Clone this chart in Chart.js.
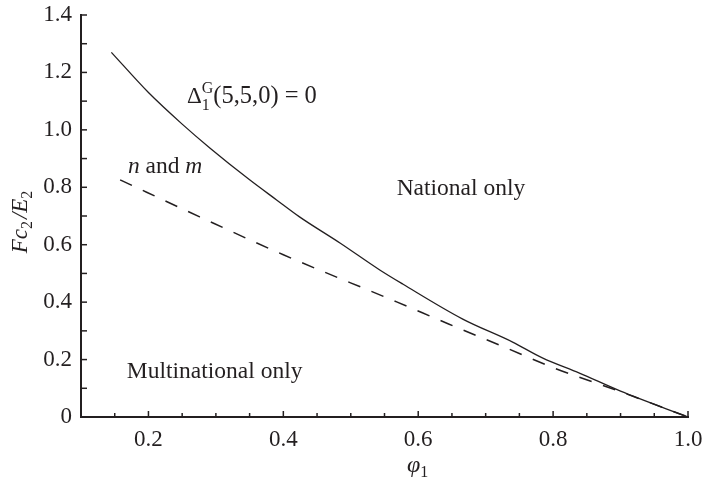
<!DOCTYPE html>
<html>
<head>
<meta charset="utf-8">
<script src="https://cdn.jsdelivr.net/npm/chart.js@4.4.1/dist/chart.umd.min.js"></script>
<style>
    html, body { margin: 0; padding: 0; background: #fff; }
    #wrap { width: 704px; height: 486px; }
</style>
</head>
<body>
<div id="wrap"><canvas id="chart"></canvas></div>
<script>
// Boundary Delta_1^G(5,5,0) = 0 (solid)
const solidPhi = [0.145, 0.2, 0.25, 0.291, 0.35, 0.39, 0.424, 0.484, 0.543, 0.577, 0.666, 0.74, 0.784, 0.839, 0.9, 1.0];
const solidY   = [1.27, 1.13, 1.02, 0.937, 0.826, 0.756, 0.697, 0.606, 0.512, 0.463, 0.341, 0.261, 0.206, 0.153, 0.09, 0];

// "n and m" boundary (dashed)
const dashPhi = [0.158, 0.276, 0.4, 0.568, 0.645, 0.724, 0.801, 0.9, 1.0];
const dashY   = [0.826, 0.697, 0.565, 0.401, 0.324, 0.247, 0.171, 0.088, 0];

const xMajorTicks = [0.2, 0.4, 0.6, 0.8, 1.0];
const yMajorTicks = [0, 0.2, 0.4, 0.6, 0.8, 1.0, 1.2, 1.4];

const ink = '#231f20';
const serif = '"Liberation Serif", "Times New Roman", serif';

function toPoints(xs, ys) {
    return xs.map((x, i) => ({x: x, y: ys[i]}));
}

function isMajor(v, list) {
    return list.some(m => Math.abs(m - v) < 1e-6);
}

// draw a run of text pieces (italic, sub/superscripts)
function drawRich(ctx, parts, x, y) {
    let cx = x;
    parts.forEach(p => {
        ctx.font = (p.italic ? 'italic ' : '') + p.size + 'px ' + serif;
        ctx.fillText(p.t, cx, y + (p.dy || 0));
        if (!p.noAdvance) cx += ctx.measureText(p.t).width + (p.gap || 0);
    });
    return cx - x;
}

function richWidth(ctx, parts) {
    let w = 0;
    parts.forEach(p => {
        ctx.font = (p.italic ? 'italic ' : '') + p.size + 'px ' + serif;
        if (!p.noAdvance) w += ctx.measureText(p.t).width + (p.gap || 0);
    });
    return w;
}

const extrasPlugin = {
    id: 'extras',
    afterDraw(chart) {
        const ctx = chart.ctx;
        const xs = chart.scales.x;
        const ys = chart.scales.y;
        const area = chart.chartArea;
        ctx.save();
        ctx.strokeStyle = ink;
        ctx.fillStyle = ink;
        ctx.lineWidth = 1.5;

        // inward ticks
        xs.ticks.forEach(t => {
            const px = xs.getPixelForValue(t.value);
            const len = isMajor(t.value, xMajorTicks) ? 6 : 4;
            ctx.beginPath();
            ctx.moveTo(px, area.bottom);
            ctx.lineTo(px, area.bottom - len);
            ctx.stroke();
        });
        ys.ticks.forEach(t => {
            const py = ys.getPixelForValue(t.value);
            ctx.beginPath();
            ctx.moveTo(area.left, py);
            ctx.lineTo(area.left + 6, py);
            ctx.stroke();
        });

        ctx.textBaseline = 'alphabetic';
        ctx.textAlign = 'left';

        // region labels
        drawRich(ctx, [{t: 'National only', size: 23.5}],
            xs.getPixelForValue(0.568), ys.getPixelForValue(0.774));
        drawRich(ctx, [{t: 'Multinational only', size: 23.5}],
            xs.getPixelForValue(0.168), ys.getPixelForValue(0.136));
        drawRich(ctx, [
            {t: 'n', size: 23.5, italic: true},
            {t: ' and ', size: 23.5},
            {t: 'm', size: 23.5, italic: true}
        ], xs.getPixelForValue(0.1696), ys.getPixelForValue(0.85));
        drawRich(ctx, [
            {t: '\u0394', size: 23},
            {t: '1', size: 16, dy: 7, noAdvance: true},
            {t: 'G', size: 16, dy: -10},
            {t: '(5,5,0) = 0', size: 24.5}
        ], xs.getPixelForValue(0.257), ys.getPixelForValue(1.094));

        // x axis title
        drawRich(ctx, [
            {t: '\u03c6', size: 24, italic: true},
            {t: '1', size: 16, dy: 5}
        ], 407, 472);

        // y axis title (rotated)
        const yParts = [
            {t: 'Fc', size: 23, italic: true},
            {t: '2', size: 16, dy: 5, gap: 2},
            {t: '/', size: 23, italic: true},
            {t: 'E', size: 23, italic: true},
            {t: '2', size: 16, dy: 5}
        ];
        ctx.translate(27, (area.top + area.bottom) / 2 + 6);
        ctx.rotate(-Math.PI / 2);
        drawRich(ctx, yParts, -richWidth(ctx, yParts) / 2, 0);
        ctx.restore();
    }
};

const ctx = document.getElementById('chart').getContext('2d');
new Chart(ctx, {
    type: 'scatter',
    data: {
        datasets: [{
            label: 'Delta',
            data: toPoints(solidPhi, solidY),
            showLine: true,
            borderColor: ink,
            borderWidth: 1.3,
            pointRadius: 0,
            cubicInterpolationMode: 'monotone'
        }, {
            label: 'n and m',
            data: toPoints(dashPhi, dashY),
            showLine: true,
            borderColor: ink,
            borderWidth: 1.5,
            borderDash: [13, 12],
            pointRadius: 0,
            cubicInterpolationMode: 'monotone'
        }]
    },
    options: {
        responsive: true,
        maintainAspectRatio: false,
        animation: false,
        layout: { padding: { left: 0, right: 16, top: 15, bottom: 0 } },
        plugins: {
            legend: { display: false },
            tooltip: { enabled: false }
        },
        scales: {
            x: {
                type: 'linear',
                min: 0.1,
                max: 1.0,
                afterFit: s => {
                    s.height = 69;
                    s.paddingLeft = 0;
                    s.paddingRight = 0;
                },
                border: { display: true, color: ink, width: 2 },
                grid: { display: true, drawOnChartArea: false, drawTicks: false },
                ticks: {
                    stepSize: 0.05,
                    autoSkip: false,
                    maxRotation: 0,
                    padding: 9,
                    color: ink,
                    font: { family: serif, size: 23 },
                    callback: v => isMajor(v, xMajorTicks) ? v.toFixed(1) : ''
                }
            },
            y: {
                type: 'linear',
                min: 0,
                max: 1.4,
                afterFit: s => {
                    s.width = 81;
                    s.paddingTop = 0;
                    s.paddingBottom = 0;
                },
                border: { display: true, color: ink, width: 2 },
                grid: { display: true, drawOnChartArea: false, drawTicks: false },
                ticks: {
                    stepSize: 0.1,
                    autoSkip: false,
                    padding: 9,
                    color: ink,
                    font: { family: serif, size: 23 },
                    callback: v => isMajor(v, yMajorTicks) ? (Math.abs(v) < 1e-6 ? '0' : v.toFixed(1)) : ''
                }
            }
        }
    },
    plugins: [extrasPlugin]
});
</script>
</body>
</html>
